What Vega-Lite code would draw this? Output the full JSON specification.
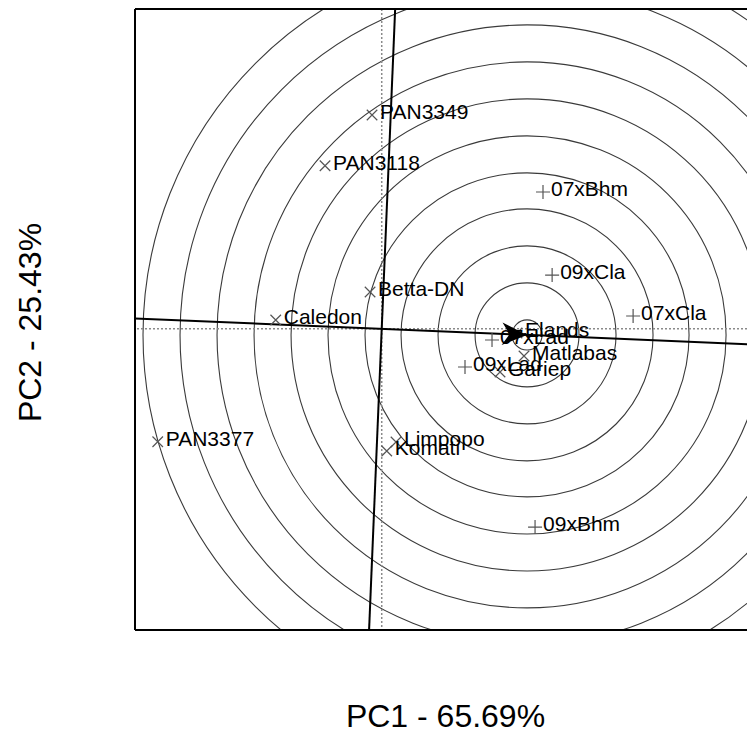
{
  "$schema": "https://vega.github.io/schema/vega-lite/v6.json",
  "width": 612,
  "height": 621,
  "autosize": {"type": "none"},
  "padding": {"left": 135, "top": 9, "right": 0, "bottom": 104},
  "background": "white",
  "config": {
    "view": {"stroke": null},
    "font": "Liberation Sans",
    "axis": {
      "labels": false, "ticks": false, "domain": false, "grid": false,
      "titleFont": "Liberation Sans", "titleFontSize": 32, "titleFontWeight": "normal",
      "titleColor": "#000000", "titleAlign": "center", "titleBaseline": "alphabetic"
    },
    "axisX": {"titleX": 310, "titleY": 96},
    "axisY": {"titleX": -95, "titleY": 313, "titleAngle": -90}
  },
  "datasets": {
    "biplot": [
      {"name": "PAN3349", "type": "Genotype", "x": -0.156, "y": 3.443},
      {"name": "PAN3118", "type": "Genotype", "x": -0.913, "y": 2.626},
      {"name": "Betta-DN", "type": "Genotype", "x": -0.188, "y": 0.593},
      {"name": "Caledon", "type": "Genotype", "x": -1.707, "y": 0.142},
      {"name": "PAN3377", "type": "Genotype", "x": -3.607, "y": -1.818},
      {"name": "Limpopo", "type": "Genotype", "x": 0.230, "y": -1.823},
      {"name": "Komati", "type": "Genotype", "x": 0.081, "y": -1.968},
      {"name": "Matlabas", "type": "Genotype", "x": 2.291, "y": -0.438},
      {"name": "Gariep", "type": "Genotype", "x": 1.905, "y": -0.696},
      {"name": "Elands", "type": "Genotype", "x": 2.179, "y": -0.068},
      {"name": "07xLad", "type": "Environment", "x": 1.776, "y": -0.180},
      {"name": "09xLad", "type": "Environment", "x": 1.341, "y": -0.615},
      {"name": "07xBhm", "type": "Environment", "x": 2.597, "y": 2.203},
      {"name": "09xCla", "type": "Environment", "x": 2.744, "y": 0.866},
      {"name": "07xCla", "type": "Environment", "x": 4.048, "y": 0.206},
      {"name": "09xBhm", "type": "Environment", "x": 2.469, "y": -3.192}
    ],
    "ideal": [{"x": 2.340, "y": -0.098}],
    "rings": [
      {"x": 2.340, "y": -0.098, "r": 0.242},
      {"x": 2.340, "y": -0.098, "r": 0.837},
      {"x": 2.340, "y": -0.098, "r": 1.433},
      {"x": 2.340, "y": -0.098, "r": 2.029},
      {"x": 2.340, "y": -0.098, "r": 2.609},
      {"x": 2.340, "y": -0.098, "r": 3.205},
      {"x": 2.340, "y": -0.098, "r": 3.800},
      {"x": 2.340, "y": -0.098, "r": 4.396},
      {"x": 2.340, "y": -0.098, "r": 4.992},
      {"x": 2.340, "y": -0.098, "r": 5.588},
      {"x": 2.340, "y": -0.098, "r": 6.184}
    ],
    "aec": [
      {"axis": "abscissa", "x": -10, "y": 0.42, "x2": 10, "y2": -0.42},
      {"axis": "ordinate", "x": -0.42, "y": -10, "x2": 0.42, "y2": 10}
    ],
    "single": [{}]
  },
  "layer": [
    {
      "data": {"name": "rings"},
      "mark": {"type": "point", "shape": "circle", "filled": false, "stroke": "#3a3a3a", "strokeWidth": 1.1, "opacity": 1, "clip": true},
      "encoding": {
        "x": {"field": "x", "type": "quantitative", "title": "PC1 - 65.69%", "scale": {"domain": [-3.973, 5.882], "nice": false, "zero": false}},
        "y": {"field": "y", "type": "quantitative", "title": "PC2 - 25.43%", "scale": {"domain": [-4.85, 5.15], "nice": false, "zero": false}},
        "size": {"field": "r", "type": "quantitative", "scale": {"type": "pow", "exponent": 2, "domain": [0, 10], "range": [0, 1542564]}, "legend": null}
      }
    },
    {
      "data": {"name": "single"},
      "mark": {"type": "rule", "color": "#8a8a8a", "strokeWidth": 1.5, "strokeDash": [2, 2]},
      "encoding": {
        "x": {"datum": 0, "type": "quantitative", "title": "PC1 - 65.69%", "scale": {"domain": [-3.973, 5.882], "nice": false, "zero": false}}
      }
    },
    {
      "data": {"name": "single"},
      "mark": {"type": "rule", "color": "#8a8a8a", "strokeWidth": 1.5, "strokeDash": [2, 2]},
      "encoding": {
        "y": {"datum": 0, "type": "quantitative", "title": "PC2 - 25.43%", "scale": {"domain": [-4.85, 5.15], "nice": false, "zero": false}}
      }
    },
    {
      "data": {"name": "aec"},
      "mark": {"type": "rule", "color": "#000000", "strokeWidth": 2, "clip": true},
      "encoding": {
        "x": {"field": "x", "type": "quantitative", "title": "PC1 - 65.69%", "scale": {"domain": [-3.973, 5.882], "nice": false, "zero": false}},
        "y": {"field": "y", "type": "quantitative", "title": "PC2 - 25.43%", "scale": {"domain": [-4.85, 5.15], "nice": false, "zero": false}},
        "x2": {"field": "x2"},
        "y2": {"field": "y2"}
      }
    },
    {
      "data": {"name": "single"},
      "mark": {"type": "rule", "color": "#000000", "strokeWidth": 2},
      "encoding": {
        "y": {"datum": 5.15, "type": "quantitative", "title": "PC2 - 25.43%", "scale": {"domain": [-4.85, 5.15], "nice": false, "zero": false}}
      }
    },
    {
      "data": {"name": "single"},
      "mark": {"type": "rule", "color": "#000000", "strokeWidth": 2},
      "encoding": {
        "y": {"datum": -4.85, "type": "quantitative", "title": "PC2 - 25.43%", "scale": {"domain": [-4.85, 5.15], "nice": false, "zero": false}}
      }
    },
    {
      "data": {"name": "single"},
      "mark": {"type": "rule", "color": "#000000", "strokeWidth": 2},
      "encoding": {
        "x": {"datum": -3.973, "type": "quantitative", "title": "PC1 - 65.69%", "scale": {"domain": [-3.973, 5.882], "nice": false, "zero": false}}
      }
    },
    {
      "data": {"name": "biplot"},
      "mark": {"type": "point", "filled": false, "stroke": "#555555", "strokeWidth": 1.2, "size": 196, "opacity": 1},
      "encoding": {
        "x": {"field": "x", "type": "quantitative", "title": "PC1 - 65.69%", "scale": {"domain": [-3.973, 5.882], "nice": false, "zero": false}},
        "y": {"field": "y", "type": "quantitative", "title": "PC2 - 25.43%", "scale": {"domain": [-4.85, 5.15], "nice": false, "zero": false}},
        "shape": {
          "field": "type", "type": "nominal",
          "scale": {"domain": ["Genotype", "Environment"], "range": ["M-0.75,-0.75L0.75,0.75M-0.75,0.75L0.75,-0.75", "M-1,0L1,0M0,-1L0,1"]},
          "legend": null
        }
      }
    },
    {
      "data": {"name": "biplot"},
      "mark": {"type": "text", "align": "left", "baseline": "middle", "dx": 8, "dy": -2, "fontSize": 21, "font": "Liberation Sans", "color": "#000000"},
      "encoding": {
        "x": {"field": "x", "type": "quantitative", "title": "PC1 - 65.69%", "scale": {"domain": [-3.973, 5.882], "nice": false, "zero": false}},
        "y": {"field": "y", "type": "quantitative", "title": "PC2 - 25.43%", "scale": {"domain": [-4.85, 5.15], "nice": false, "zero": false}},
        "text": {"field": "name"}
      }
    },
    {
      "data": {"name": "ideal"},
      "mark": {"type": "point", "shape": "M0,0L-1,-0.45L-0.7,0L-1,0.45Z", "filled": true, "color": "#000000", "size": 2500, "angle": 2.4, "opacity": 1},
      "encoding": {
        "x": {"field": "x", "type": "quantitative", "title": "PC1 - 65.69%", "scale": {"domain": [-3.973, 5.882], "nice": false, "zero": false}},
        "y": {"field": "y", "type": "quantitative", "title": "PC2 - 25.43%", "scale": {"domain": [-4.85, 5.15], "nice": false, "zero": false}}
      }
    }
  ]
}
